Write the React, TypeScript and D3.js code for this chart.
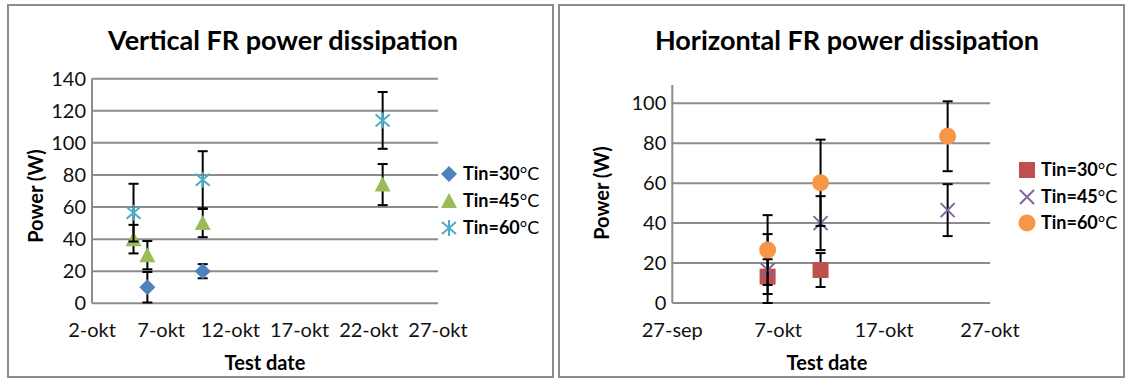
import React from 'react';
import * as d3 from 'd3';

const W = 1127;
const H = 379;
const FONT = 'Lato, "Open Sans", sans-serif';

const parse = d3.timeParse('%Y-%m-%d');

// Vertical FR
const vDates30 = ['2013-10-06', '2013-10-10'];
const vPow30 = [10, 20];
const vErr30 = [9.5, 4.4];
const vDates45 = ['2013-10-05', '2013-10-06', '2013-10-10', '2013-10-23'];
const vPow45 = [40, 30, 50, 74];
const vErr45 = [8.9, 8.8, 8.8, 12.8];
const vDates60 = ['2013-10-05', '2013-10-10', '2013-10-23'];
const vPow60 = [56.5, 77, 114];
const vErr60 = [18, 17.8, 17.7];
const vTickDates = ['2013-10-02', '2013-10-07', '2013-10-12', '2013-10-17', '2013-10-22', '2013-10-27'];
const vTickLabels = ['2-okt', '7-okt', '12-okt', '17-okt', '22-okt', '27-okt'];
const vYTicks = [0, 20, 40, 60, 80, 100, 120, 140];

// Horizontal FR
const hDates30 = ['2013-10-06', '2013-10-11'];
const hPow30 = [13.2, 16.5];
const hErr30 = [8.7, 8.5];
const hDates45 = ['2013-10-06', '2013-10-11', '2013-10-23'];
const hPow45 = [16.5, 40, 46.5];
const hErr45 = [18, 13.5, 13];
const hDates60 = ['2013-10-06', '2013-10-11', '2013-10-23'];
const hPow60 = [26.5, 60.2, 83.5];
const hErr60 = [17.5, 21.6, 17.5];
const hTickDates = ['2013-09-27', '2013-10-07', '2013-10-17', '2013-10-27'];
const hTickLabels = ['27-sep', '7-okt', '17-okt', '27-okt'];
const hYTicks = [0, 20, 40, 60, 80, 100];

const seriesLabels = ['30', '45', '60'];

type Series = { dates: string[]; values: number[]; errs: number[]; marker: string; color: string };

function Marker({ kind, color, x, y }: { kind: string; color: string; x: number; y: number }) {
  const t = `translate(${x},${y})`;
  if (kind === 'diamond') return <path transform={t} d="M0,-8L8,0L0,8L-8,0Z" fill={color} />;
  if (kind === 'triangle') return <path transform={t} d="M0,-8L8,7L-8,7Z" fill={color} />;
  if (kind === 'square') return <rect transform={t} x={-8} y={-8} width={16} height={16} fill={color} />;
  if (kind === 'circle') return <circle transform={t} r={8.5} fill={color} />;
  if (kind === 'cross')
    return <path transform={t} d="M-7,-7L7,7M-7,7L7,-7" stroke={color} strokeWidth={2} fill="none" />;
  // star: X plus vertical bar
  return <path transform={t} d="M-7,-6L7,6M-7,6L7,-6M0,-8L0,8" stroke={color} strokeWidth={2} fill="none" />;
}

function Chart(props: {
  box: [number, number, number, number];
  title: string;
  titleX: number;
  xDomain: [string, string];
  xRange: [number, number];
  yMax: number;
  yRange: [number, number];
  axisTop: number;
  yTicks: number[];
  tickDates: string[];
  tickLabels: string[];
  series: Series[];
  legendX: number;
  legendY: number[];
  yLabelX: number;
  yLabelY: number;
  xTitleX: number;
}) {
  const p = props;
  const x = d3.scaleTime().domain([parse(p.xDomain[0])!, parse(p.xDomain[1])!]).range(p.xRange);
  const y = d3.scaleLinear().domain([0, p.yMax]).range(p.yRange);
  const [bx, by, bw, bh] = p.box;
  const grid = '#8c8c8c';
  return (
    <g fontFamily={FONT}>
      <rect x={bx} y={by} width={bw} height={bh} fill="#fff" stroke="#8c8c8c" strokeWidth={2} />
      <text x={p.titleX} y={50} textAnchor="middle" fontSize={27} fontWeight="bold">
        {p.title}
      </text>
      {p.yTicks.map((t) => (
        <g key={t}>
          <line x1={p.xRange[0]} x2={p.xRange[1]} y1={y(t)} y2={y(t)} stroke={grid} strokeWidth={2} />
          <text x={p.xRange[0] - 6} y={y(t)} dy="0.35em" textAnchor="end" fontSize={20} fill="#111">
            {t}
          </text>
        </g>
      ))}
      <line x1={p.xRange[0]} x2={p.xRange[0]} y1={y(0)} y2={p.axisTop} stroke={grid} strokeWidth={2} />
      {p.tickDates.map((d, i) => (
        <text key={d} x={x(parse(d)!)} y={337} textAnchor="middle" fontSize={20} fill="#111">
          {p.tickLabels[i]}
        </text>
      ))}
      <text x={p.xTitleX} y={370} textAnchor="middle" fontSize={20} fontWeight="bold">
        Test date
      </text>
      <text
        transform={`translate(${p.yLabelX},${p.yLabelY}) rotate(-90)`}
        textAnchor="middle"
        fontSize={20}
        fontWeight="bold"
      >
        Power (W)
      </text>
      {p.series.map((s, si) => (
        <g key={si}>
          {s.dates.map((d, i) => {
            const cx = x(parse(d)!);
            const top = y(s.values[i] + s.errs[i]);
            const bot = y(Math.max(0, s.values[i] - s.errs[i]));
            return (
              <g key={d} stroke="#000" strokeWidth={2}>
                <line x1={cx} x2={cx} y1={top} y2={bot} />
                <line x1={cx - 5} x2={cx + 5} y1={top} y2={top} />
                <line x1={cx - 5} x2={cx + 5} y1={bot} y2={bot} />
              </g>
            );
          })}
          {s.dates.map((d, i) => (
            <Marker key={d} kind={s.marker} color={s.color} x={x(parse(d)!)} y={y(s.values[i])} />
          ))}
        </g>
      ))}
      {p.series.map((s, si) => (
        <g key={si}>
          <Marker kind={s.marker} color={s.color} x={p.legendX} y={p.legendY[si]} />
          <text x={p.legendX + 14} y={p.legendY[si]} dy="0.35em" fontSize={18}>
            <tspan fontWeight="bold">Tin={seriesLabels[si]}</tspan>
            <tspan>°C</tspan>
          </text>
        </g>
      ))}
    </g>
  );
}

export default function App() {
  const vSeries: Series[] = [
    { dates: vDates30, values: vPow30, errs: vErr30, marker: 'diamond', color: '#4f81bd' },
    { dates: vDates45, values: vPow45, errs: vErr45, marker: 'triangle', color: '#9bbb59' },
    { dates: vDates60, values: vPow60, errs: vErr60, marker: 'star', color: '#4bacc6' },
  ];
  const hSeries: Series[] = [
    { dates: hDates30, values: hPow30, errs: hErr30, marker: 'square', color: '#c0504d' },
    { dates: hDates45, values: hPow45, errs: hErr45, marker: 'cross', color: '#8064a2' },
    { dates: hDates60, values: hPow60, errs: hErr60, marker: 'circle', color: '#f79646' },
  ];
  return (
    <svg width={W} height={H} style={{ position: 'absolute', left: 0, top: 0, background: '#fff' }}>
      <Chart
        box={[8, 5, 545, 372]}
        title="Vertical FR power dissipation"
        titleX={283}
        xDomain={['2013-10-02', '2013-10-27']}
        xRange={[92, 438]}
        yMax={140}
        yRange={[303.3, 78.7]}
        axisTop={78.7}
        yTicks={vYTicks}
        tickDates={vTickDates}
        tickLabels={vTickLabels}
        series={vSeries}
        legendX={449}
        legendY={[174, 201, 228]}
        yLabelX={43}
        yLabelY={196}
        xTitleX={265}
      />
      <Chart
        box={[559, 5, 565, 372]}
        title="Horizontal FR power dissipation"
        titleX={847}
        xDomain={['2013-09-27', '2013-10-27']}
        xRange={[672.3, 990]}
        yMax={100}
        yRange={[303, 103.3]}
        axisTop={85}
        yTicks={hYTicks}
        tickDates={hTickDates}
        tickLabels={hTickLabels}
        series={hSeries}
        legendX={1027}
        legendY={[170, 197, 223]}
        yLabelX={609}
        yLabelY={193}
        xTitleX={827}
      />
    </svg>
  );
}
